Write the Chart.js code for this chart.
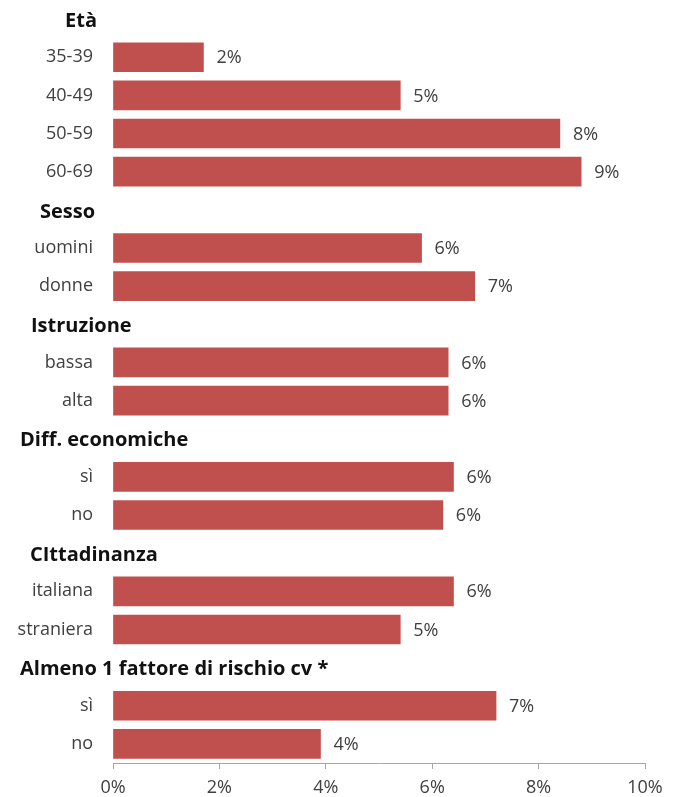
<!DOCTYPE html>
<html lang="it">
<head>
  <meta charset="UTF-8">
  <title>Fattori per età, sesso, istruzione</title>
  <script src="https://cdn.jsdelivr.net/npm/chart.js"></script>
  <style>
    body { margin: 0; background: #fff; }
    .chart-wrapper { position: relative; width: 673px; height: 797px; }
  </style>
</head>
<body>
  <div class="chart-wrapper"><canvas id="barChart"></canvas></div>

  <script>
    // righe del grafico: i titoli di gruppo hanno valore null
    const categories = [
      'Età', '35-39', '40-49', '50-59', '60-69',
      'Sesso', 'uomini', 'donne',
      'Istruzione', 'bassa', 'alta',
      'Diff. economiche', 'sì', 'no',
      'CIttadinanza', 'italiana', 'straniera',
      'Almeno 1 fattore di rischio cv *', 'sì', 'no'
    ];
    const isHeader = [
      true, false, false, false, false,
      true, false, false,
      true, false, false,
      true, false, false,
      true, false, false,
      true, false, false
    ];
    const values = [
      null, 1.7, 5.4, 8.4, 8.8,
      null, 5.8, 6.8,
      null, 6.3, 6.3,
      null, 6.4, 6.2,
      null, 6.4, 5.4,
      null, 7.2, 3.9
    ];
    const xTicks = [0, 2, 4, 6, 8, 10];

    const fontFamily = '"Open Sans", "Noto Sans", sans-serif';
    const headerIndent = [65, 40, 31, 20, 30, 20];

    // titoli di gruppo a sinistra, in grassetto
    const headerPlugin = {
      id: 'headers',
      afterDraw(chart) {
        const ctx = chart.ctx;
        const y = chart.scales.y;
        ctx.save();
        ctx.font = 'bold 20px ' + fontFamily;
        ctx.fillStyle = '#111';
        ctx.textAlign = 'left';
        ctx.textBaseline = 'middle';
        let h = 0;
        categories.forEach((c, i) => {
          if (!isHeader[i]) return;
          ctx.fillText(c, headerIndent[h++], y.getPixelForValue(i) + 2);
        });
        ctx.restore();
      }
    };

    // etichette percentuali a destra delle barre
    const valuePlugin = {
      id: 'values',
      afterDatasetsDraw(chart) {
        const ctx = chart.ctx;
        const meta = chart.getDatasetMeta(0);
        ctx.save();
        ctx.font = '18px ' + fontFamily;
        ctx.fillStyle = '#404040';
        ctx.textAlign = 'left';
        ctx.textBaseline = 'middle';
        meta.data.forEach((bar, i) => {
          if (values[i] == null) return;
          ctx.fillText(Math.round(values[i]) + '%', bar.x + 13, bar.y + 1);
        });
        ctx.restore();
      }
    };

    // niente margini automatici: l'area del grafico parte dal bordo alto
    const noScalePadding = scale => {
      scale.paddingTop = 0;
      scale.paddingBottom = 0;
      scale.paddingLeft = 0;
      scale.paddingRight = 0;
    };

    new Chart(document.getElementById('barChart').getContext('2d'), {
      type: 'bar',
      data: {
        labels: categories,
        datasets: [{
          data: values,
          backgroundColor: '#C0504D',
          borderWidth: 0,
          barThickness: 29
        }]
      },
      options: {
        indexAxis: 'y',
        responsive: true,
        maintainAspectRatio: false,
        animation: false,
        layout: { padding: { left: 0, right: 28, top: 0, bottom: 0 } },
        plugins: {
          legend: { display: false },
          tooltip: { enabled: false }
        },
        scales: {
          y: {
            afterFit(scale) { scale.width = 113; noScalePadding(scale); },
            grid: { display: false, drawTicks: false },
            border: { display: false },
            ticks: {
              padding: 20,
              color: '#404040',
              font: { family: fontFamily, size: 18 },
              callback: (v, i) => isHeader[i] ? '' : categories[i]
            }
          },
          x: {
            min: xTicks[0],
            max: xTicks[xTicks.length - 1],
            afterFit(scale) { scale.height = 34; noScalePadding(scale); },
            afterBuildTicks(scale) { scale.ticks = xTicks.map(v => ({ value: v })); },
            border: { display: true, color: '#a6a6a6' },
            grid: { drawOnChartArea: false, tickLength: 6, color: '#a6a6a6' },
            ticks: {
              padding: 8,
              color: '#404040',
              font: { family: fontFamily, size: 18 },
              callback: v => v + '%'
            }
          }
        }
      },
      plugins: [headerPlugin, valuePlugin]
    });
  </script>
</body>
</html>
